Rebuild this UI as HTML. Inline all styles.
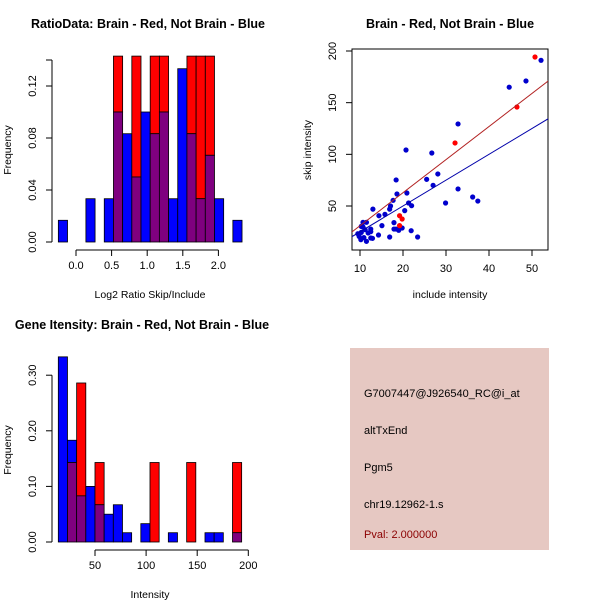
<!DOCTYPE html>
<html><head><meta charset="utf-8"><style>
body{margin:0;background:#fff}
svg text{font-family:"Liberation Sans",sans-serif}
</style></head><body>
<svg id="c" width="600" height="600" font-size="11">
<rect x="350" y="348" width="199" height="202" fill="#e6c8c2"/>
<text x="364" y="397">G7007447@J926540_RC@i_at</text>
<text x="364" y="434">altTxEnd</text>
<text x="364" y="471">Pgm5</text>
<text x="364" y="508">chr19.12962-1.s</text>
<text x="364" y="538" fill="#8b0000">Pval: 2.000000</text>
</svg>
<script>
// Ratio histogram data
const ratioBinStart=-0.248, ratioBinWidth=0.129;
const ratioBlue=[0.0167,0,0,0.0333,0,0.0333,0.1,0.0833,0.05,0.1,0.0833,0.1,0.0333,0.1333,0.0833,0.0333,0.0667,0.0333,0,0.0167];
const ratioRed=[0,0,0,0,0,0,0.143,0,0.143,0,0.143,0.143,0,0,0.143,0.143,0.143,0,0,0];
const ratioXTicks=[0,0.5,1,1.5,2];
const ratioYTicks=[0,0.04,0.08,0.12];
// Intensity histogram data
const intBinStart=14.1, intBinWidth=8.97;
const intBlue=[0.333,0.183,0.083,0.1,0.067,0.05,0.067,0.0167,0,0.033,0,0,0.0167,0,0,0,0.0167,0.0167,0,0.0167];
const intRed=[0,0.143,0.286,0,0.143,0,0,0,0,0,0.143,0,0,0,0.143,0,0,0,0,0.143];
const intXTicks=[50,100,150,200];
const intYTicks=[0,0.1,0.2,0.3];
// Scatter data
const redX=[50.7,46.5,32.1,19.2,19.8,19.2];
const redY=[194.2,145.8,111,40.6,37.4,31];
const blueX=[52.1,44.7,48.6,32.8,20.7,26.7,18.4,25.5,28.1,27,32.8,36.2,37.4,29.9,20.9,18.6,17.7,17.1,16.9,20.4,22,21.3,13,14.4,15.8,15.1,17.9,18.4,17.9,19.8,19,21.9,23.4,16.9,14.3,12.5,12.5,12.5,11.5,10.7,11.5,10.3,10.3,9.8,9.5,10.2,10.9,11.9,11.2,10.7,12.9];
const blueY=[191,165,171,129.4,104.2,101.3,75.2,75.8,81,70,66.5,58.7,54.8,52.9,62.6,61.6,55.5,50,47,45.5,50.3,52.9,47,40.6,41.9,31,33.9,27.7,27.7,28.7,26.5,26.1,20,20,21.9,27.7,25.2,19,15.8,34.2,34.2,30.3,24.5,20.6,23.2,17.4,19.4,23.9,27.1,29.7,18.7];
const redFit=[-1.1,3.2];   // intercept, slope
const blueFit=[0,2.5];
const scXTicks=[10,20,30,40,50];
const scYTicks=[50,100,150,200];

const svg=document.getElementById('c');
const NS='http://www.w3.org/2000/svg';
function mk(tag,attrs,parent){const e=document.createElementNS(NS,tag);for(const k in attrs)e.setAttribute(k,attrs[k]);(parent||svg).appendChild(e);return e;}
function txt(x,y,s,extra){const t=mk('text',Object.assign({x:x,y:y,'text-anchor':'middle'},extra||{}));t.textContent=s;return t;}

function hist(o){
  const g=mk('g',{});
  
  
  const X=v=>o.x0+(v-o.xv0)*o.xs, Y=v=>o.y0-v*o.ys;
  for(let i=0;i<o.blue.length;i++){
    const a=o.start+i*o.w,b=a+o.w;
    const x1=X(a),x2=X(b),bv=o.blue[i],rv=o.red[i];
    const mn=Math.min(bv,rv),mx=Math.max(bv,rv);
    if(mx<=0)continue;
    const top=mk('rect',{x:x1,y:Y(mx),width:x2-x1,height:Y(mn)-Y(mx),fill:bv>rv?'#0000ff':'#ff0000',stroke:'#000','stroke-width':0.8},g);
    
    
    if(mn>0){const p=mk('rect',{x:x1,y:Y(mn),width:x2-x1,height:Y(0)-Y(mn),fill:'#7f007f',stroke:'#000','stroke-width':0.8},g);
      
      }
  }
  const ax=o.xt, ay=o.yt;
  mk('line',{x1:X(ax[0]),x2:X(ax[ax.length-1]),y1:o.axY,y2:o.axY,stroke:'#000'});
  ax.forEach(v=>{mk('line',{x1:X(v),x2:X(v),y1:o.axY,y2:o.axY+6,stroke:'#000'});txt(X(v),o.axY+19,o.fx(v));});
  mk('line',{x1:o.axX,x2:o.axX,y1:Y(ay[0]),y2:Y(o.ytop),stroke:'#000'});
  const tv=ay.concat(o.ytop!==ay[ay.length-1]?[o.ytop]:[]);
  tv.forEach(v=>mk('line',{x1:o.axX-6,x2:o.axX,y1:Y(v),y2:Y(v),stroke:'#000'}));
  ay.forEach(v=>txt(o.axX-16,Y(v),v.toFixed(2),{transform:`rotate(-90 ${o.axX-16} ${Y(v)})`}));
}
hist({name:'ratio-histogram',x0:76,xv0:0,xs:71.2,y0:242,ys:1300,start:ratioBinStart,w:ratioBinWidth,blue:ratioBlue,red:ratioRed,xt:ratioXTicks,yt:ratioYTicks,ytop:0.14,axY:250,axX:52,fx:v=>v.toFixed(1)});
hist({name:'intensity-histogram',x0:95,xv0:50,xs:1.022,y0:542,ys:556,start:intBinStart,w:intBinWidth,blue:intBlue,red:intRed,xt:intXTicks,yt:intYTicks,ytop:0.3,axY:550,axX:52,fx:v=>String(v)});

txt(148,28,'RatioData: Brain - Red, Not Brain - Blue',{'font-weight':'bold','font-size':'12.5'});
txt(150,298,'Log2 Ratio Skip/Include',{'font-size':'10.5'});
txt(11,150,'Frequency',{transform:'rotate(-90 11 150)','font-size':'10.5'});
txt(142,329,'Gene Itensity: Brain - Red, Not Brain - Blue',{'font-weight':'bold','font-size':'12.5'});
txt(150,598,'Intensity',{'font-size':'10.5'});
txt(11,450,'Frequency',{transform:'rotate(-90 11 450)','font-size':'10.5'});

// scatter
const SX=v=>360+(v-10)*4.3, SY=v=>206-(v-50)*1.0333;
mk('defs',{}).innerHTML='<clipPath id="cp"><rect x="352" y="49" width="196" height="201"/></clipPath>';
const sg=mk('g',{});


mk('rect',{x:352,y:49,width:196,height:201,fill:'none',stroke:'#000'},sg);
blueX.forEach((v,i)=>{const c=mk('circle',{cx:SX(v),cy:SY(blueY[i]),r:2.6,fill:'#0000cd'},sg);
  
  });
redX.forEach((v,i)=>{const c=mk('circle',{cx:SX(v),cy:SY(redY[i]),r:2.6,fill:'#ff0000'},sg);
  
  });
[[redFit,'#b22222','red-fit-line'],[blueFit,'#0000aa','blue-fit-line']].forEach(([f,col,n])=>{
  const l=mk('line',{x1:SX(5),y1:SY(f[0]+f[1]*5),x2:SX(60),y2:SY(f[0]+f[1]*60),stroke:col,'clip-path':'url(#cp)'},sg);
  
  });
scXTicks.forEach(v=>{mk('line',{x1:SX(v),x2:SX(v),y1:250,y2:256,stroke:'#000'});txt(SX(v),272,String(v));});
scYTicks.forEach(v=>{mk('line',{x1:346,x2:352,y1:SY(v),y2:SY(v),stroke:'#000'});txt(336,SY(v),String(v),{transform:`rotate(-90 336 ${SY(v)})`});});
txt(450,28,'Brain - Red, Not Brain - Blue',{'font-weight':'bold','font-size':'12.5'});
txt(450,298,'include intensity',{'font-size':'10.5'});
txt(311,150,'skip intensity',{transform:'rotate(-90 311 150)','font-size':'10.5'});
</script>
</body></html>
